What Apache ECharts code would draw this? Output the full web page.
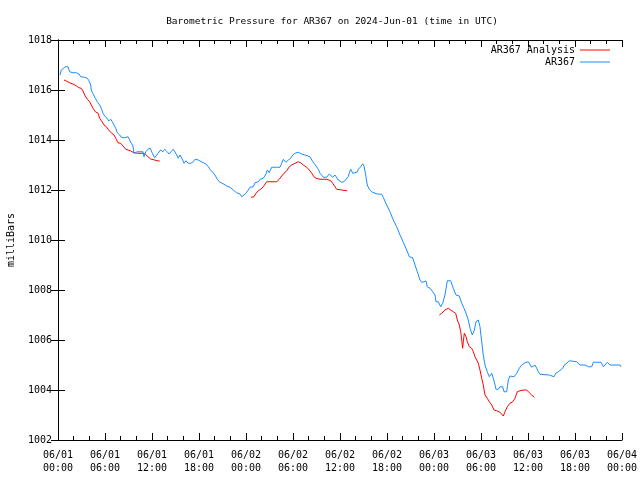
<!DOCTYPE html>
<html>
<head>
<meta charset="utf-8">
<script src="https://cdn.jsdelivr.net/npm/echarts@6/dist/echarts.min.js"></script>
<style>
html,body{margin:0;padding:0;background:#fff;}
#chart{width:640px;height:480px;}
</style>
</head>
<body>
<div id="chart"></div>
<script>
// time in hours since 2024-06-01 00:00 UTC, pressure in millibars
var titleText = 'Barometric Pressure for AR367 on 2024-Jun-01 (time in UTC)';
var yName = 'milliBars';
var seriesNames = ['AR367 Analysis', 'AR367'];
var xTickStart = 0, xTickEnd = 72, xTickStep = 6;
var yTickStart = 1002, yTickEnd = 1018, yTickStep = 2;

var ar367 = [
[0.26,1016.60],[0.42,1016.80],[0.93,1016.93],[1.28,1016.93],[1.49,1016.73],[1.91,1016.69],[2.34,1016.69],
[2.68,1016.64],[2.90,1016.53],[3.41,1016.51],[3.74,1016.47],[3.96,1016.37],[4.17,1016.20],[4.25,1016.00],
[4.38,1015.91],[4.60,1015.87],[4.76,1015.67],[5.02,1015.53],[5.32,1015.40],[5.53,1015.27],[5.74,1015.07],
[5.96,1014.96],[6.26,1014.87],[6.47,1014.76],[6.73,1014.83],[6.93,1014.73],[7.15,1014.60],[7.37,1014.47],
[7.57,1014.29],[7.88,1014.20],[8.08,1014.11],[8.51,1014.09],[8.72,1014.07],[8.94,1014.13],[9.15,1014.00],
[9.36,1013.87],[9.57,1013.76],[9.70,1013.47],[9.87,1013.43],[10.12,1013.53],[10.85,1013.53],[10.98,1013.33],
[11.20,1013.53],[11.49,1013.63],[11.78,1013.67],[12.04,1013.47],[12.34,1013.29],[12.55,1013.33],[12.77,1013.47],
[13.11,1013.60],[13.40,1013.53],[13.62,1013.63],[13.95,1013.53],[14.17,1013.44],[14.43,1013.53],[14.72,1013.63],
[14.94,1013.63],[15.15,1013.40],[15.36,1013.27],[15.57,1013.40],[15.79,1013.44],[15.92,1013.20],[16.09,1013.07],
[16.34,1013.17],[16.63,1013.07],[16.94,1013.07],[17.27,1013.13],[17.49,1013.23],[17.71,1013.16],[17.91,1013.20],
[18.13,1013.13],[18.55,1013.09],[18.89,1013.04],[19.19,1012.93],[19.40,1012.83],[19.75,1012.71],[20.04,1012.60],
[20.34,1012.43],[20.59,1012.33],[20.77,1012.27],[21.19,1012.23],[21.54,1012.16],[21.96,1012.11],[22.38,1012.00],
[22.81,1011.89],[23.23,1011.84],[23.45,1011.73],[23.66,1011.80],[24.00,1011.87],[24.29,1012.00],[24.51,1012.11],
[24.93,1012.13],[25.15,1012.29],[25.57,1012.33],[25.79,1012.43],[26.21,1012.47],[26.55,1012.64],[26.72,1012.80],
[26.97,1012.69],[27.28,1012.91],[27.92,1012.91],[28.34,1012.91],[28.56,1013.07],[28.76,1013.23],[29.11,1013.11],
[29.40,1013.20],[29.71,1013.27],[29.96,1013.40],[30.26,1013.47],[30.68,1013.51],[30.89,1013.51],[31.11,1013.44],
[31.53,1013.40],[31.75,1013.33],[32.17,1013.33],[32.39,1013.20],[32.68,1013.07],[32.94,1012.96],[33.23,1012.83],
[33.45,1012.67],[33.66,1012.60],[33.87,1012.51],[34.30,1012.51],[34.51,1012.53],[34.63,1012.64],[34.81,1012.56],
[35.07,1012.51],[35.36,1012.60],[35.58,1012.53],[35.78,1012.40],[36.22,1012.31],[36.51,1012.33],[36.77,1012.43],
[37.06,1012.53],[37.19,1012.69],[37.37,1012.83],[37.62,1012.67],[37.79,1012.72],[38.21,1012.72],[38.34,1012.83],
[38.64,1012.93],[38.90,1013.05],[39.06,1012.96],[39.32,1012.53],[39.48,1012.20],[39.74,1012.03],[40.05,1011.93],
[40.47,1011.87],[40.76,1011.84],[41.32,1011.83],[41.53,1011.70],[41.96,1011.40],[42.38,1011.13],[42.80,1010.80],
[43.24,1010.53],[43.66,1010.20],[44.08,1009.91],[44.51,1009.60],[44.85,1009.33],[45.28,1009.29],[45.57,1009.00],
[45.87,1008.73],[46.21,1008.40],[46.43,1008.31],[46.72,1008.33],[46.98,1008.36],[47.14,1008.13],[47.49,1008.07],
[47.83,1007.93],[48.13,1007.80],[48.26,1007.53],[48.55,1007.53],[48.86,1007.33],[49.11,1007.47],[49.40,1007.80],
[49.70,1008.37],[50.13,1008.37],[50.46,1008.07],[50.81,1007.80],[51.23,1007.76],[51.54,1007.47],[51.83,1007.27],
[52.09,1007.07],[52.38,1006.80],[52.60,1006.47],[52.89,1006.20],[53.15,1006.40],[53.36,1006.73],[53.66,1006.80],
[53.87,1006.53],[54.09,1005.93],[54.29,1005.40],[54.51,1005.00],[54.80,1004.73],[55.06,1004.53],[55.37,1004.67],
[55.57,1004.47],[55.79,1004.20],[55.91,1004.03],[56.21,1004.03],[56.43,1004.13],[56.77,1004.13],[56.94,1003.93],
[57.28,1003.93],[57.49,1004.40],[57.70,1004.56],[57.92,1004.51],[58.21,1004.53],[58.56,1004.67],[58.89,1004.87],
[59.20,1005.00],[59.62,1005.09],[60.04,1005.13],[60.26,1005.07],[60.47,1004.91],[60.68,1004.93],[60.89,1005.00],
[61.11,1004.87],[61.31,1004.73],[61.53,1004.63],[61.75,1004.60],[62.72,1004.60],[62.90,1004.53],[63.32,1004.53],
[63.57,1004.67],[63.87,1004.73],[64.09,1004.80],[64.43,1004.87],[64.63,1005.00],[64.94,1005.07],[65.27,1005.17],
[65.49,1005.13],[66.21,1005.13],[66.42,1005.20],[66.64,1005.00],[67.28,1005.00],[67.70,1004.93],[68.13,1004.93],
[68.34,1005.11],[69.32,1005.11],[69.62,1004.93],[69.83,1005.00],[70.12,1005.11],[70.47,1005.00],[71.11,1005.00],
[71.75,1005.00],[71.87,1004.93]
];

var analysisA = [
[0.77,1016.40],[1.06,1016.36],[1.49,1016.29],[1.91,1016.24],[2.34,1016.17],[2.68,1016.09],[2.97,1016.07],
[3.19,1015.96],[3.41,1015.80],[3.74,1015.63],[4.05,1015.53],[4.25,1015.40],[4.47,1015.27],[4.76,1015.13],
[5.11,1015.07],[5.32,1014.87],[5.62,1014.73],[5.87,1014.60],[6.17,1014.53],[6.47,1014.40],[6.80,1014.29],
[7.15,1014.20],[7.44,1014.03],[7.66,1013.89],[8.00,1013.87],[8.30,1013.76],[8.64,1013.63],[8.94,1013.60],
[9.28,1013.56],[9.70,1013.49],[10.21,1013.47],[10.43,1013.49],[10.85,1013.47],[11.14,1013.43],[11.49,1013.33],
[11.83,1013.24],[12.34,1013.20],[12.64,1013.17],[12.98,1013.16]
];
var analysisB = [
[24.64,1011.71],[25.02,1011.73],[25.28,1011.87],[25.57,1011.97],[25.88,1012.03],[26.21,1012.13],[26.64,1012.33],
[27.92,1012.33],[28.25,1012.43],[28.56,1012.56],[28.85,1012.67],[29.20,1012.77],[29.53,1012.93],[29.83,1013.00],
[30.26,1013.07],[30.68,1013.13],[30.98,1013.09],[31.31,1013.00],[31.75,1012.91],[32.08,1012.80],[32.39,1012.67],
[32.68,1012.53],[32.94,1012.47],[33.45,1012.43],[34.30,1012.43],[34.81,1012.37],[35.07,1012.27],[35.36,1012.13],
[35.58,1012.03],[36.22,1012.00],[36.93,1011.97]
];
var analysisC = [
[48.68,1007.00],[48.98,1007.07],[49.40,1007.20],[49.83,1007.27],[50.13,1007.20],[50.46,1007.13],[50.77,1007.07],
[50.98,1006.80],[51.23,1006.60],[51.41,1006.33],[51.54,1006.00],[51.66,1005.67],[51.74,1005.93],[51.87,1006.27],
[52.09,1006.13],[52.25,1005.93],[52.51,1005.73],[52.81,1005.67],[53.02,1005.53],[53.23,1005.33],[53.45,1005.27],
[53.66,1005.07],[53.87,1004.80],[54.09,1004.47],[54.29,1004.20],[54.51,1003.80],[54.80,1003.67],[55.06,1003.53],
[55.37,1003.40],[55.66,1003.20],[56.00,1003.17],[56.43,1003.11],[56.64,1003.07],[56.85,1002.96],[57.06,1003.13],
[57.36,1003.33],[57.70,1003.47],[58.04,1003.53],[58.34,1003.67],[58.63,1003.93],[58.98,1003.97],[59.49,1004.00],
[59.83,1004.00],[60.17,1003.89],[60.47,1003.80],[60.81,1003.71]
];

var RED = '#ff0000', BLUE = '#1a8cff';
var FONT = 'DejaVu Sans Mono';

function xLabel(h) {
  var day = 1 + Math.floor(h / 24);
  var hh = h % 24;
  return '06/' + (day < 10 ? '0' : '') + day + '\n' + (hh < 10 ? '0' : '') + hh + ':00';
}
function yLabel(v) { return String(v); }

var axisLineStyle = {show: true, lineStyle: {color: '#000', width: 1}};
var tickStyle = {show: true, inside: true, length: 7, lineStyle: {color: '#000', width: 1}};
var minorStyle = {show: true, splitNumber: 3, length: 4, lineStyle: {color: '#000', width: 1}};

function xAx(pos, labels) {
  return {
    type: 'value', position: pos, min: xTickStart, max: xTickEnd, interval: xTickStep,
    axisLine: axisLineStyle, axisTick: tickStyle, minorTick: minorStyle,
    splitLine: {show: false},
    axisLabel: {show: labels, formatter: xLabel, color: '#000', fontFamily: FONT, fontSize: 10, lineHeight: 13, margin: 9}
  };
}
function yAx(pos, labels) {
  return {
    type: 'value', position: pos, min: yTickStart, max: yTickEnd, interval: yTickStep,
    axisLine: axisLineStyle, axisTick: tickStyle,
    splitLine: {show: false},
    name: labels ? yName : '', nameLocation: 'middle', nameRotate: 90, nameGap: 42,
    nameTextStyle: {color: '#000', fontFamily: FONT, fontSize: 10},
    axisLabel: {show: labels, formatter: yLabel, color: '#000', fontFamily: FONT, fontSize: 10, margin: 6}
  };
}

function lineSeries(name, data, color) {
  return {
    name: name, type: 'line', data: data, xAxisIndex: 0, yAxisIndex: 0,
    showSymbol: false, symbol: 'none', silent: true, animation: false,
    lineStyle: {color: color, width: 1}, itemStyle: {color: color}
  };
}

var chart = echarts.init(document.getElementById('chart'), null, {renderer: 'canvas'});
chart.setOption({
  animation: false,
  backgroundColor: '#fff',
  title: {
    text: titleText, left: 327, top: 12, textAlign: 'center',
    textStyle: {color: '#000', fontFamily: FONT, fontSize: 9.5, fontWeight: 'normal'}
  },
  legend: [
    {data: [seriesNames[0]], right: 30, top: 45, align: 'right', icon: 'rect', itemWidth: 30, itemHeight: 1,
     itemGap: 4, padding: 0, textStyle: {color: '#000', fontFamily: FONT, fontSize: 10}},
    {data: [seriesNames[1]], right: 30, top: 57, align: 'right', icon: 'rect', itemWidth: 30, itemHeight: 1,
     itemGap: 4, padding: 0, textStyle: {color: '#000', fontFamily: FONT, fontSize: 10}}
  ],
  grid: {left: 58, right: 18, top: 40, bottom: 40, containLabel: false, outerBoundsMode: 'none'},
  xAxis: [xAx('bottom', true), xAx('top', false)],
  yAxis: [yAx('left', true), yAx('right', false)],
  series: [
    lineSeries(seriesNames[0], analysisA, RED),
    lineSeries(seriesNames[0], analysisB, RED),
    lineSeries(seriesNames[0], analysisC, RED),
    lineSeries(seriesNames[1], ar367, BLUE)
  ]
});
</script>
</body>
</html>
